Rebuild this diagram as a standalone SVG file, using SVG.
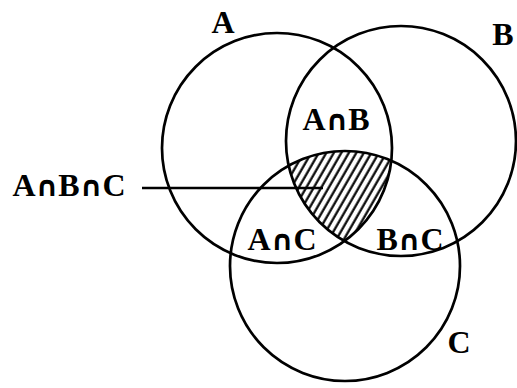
<svg xmlns="http://www.w3.org/2000/svg" width="517" height="388" viewBox="0 0 517 388">
<style>
.c{fill:none;stroke:#000;stroke-width:2.7}
.t{font-family:"Liberation Serif","Times New Roman",serif;font-weight:bold;font-size:32px;fill:#000}
.n{font-family:"DejaVu Sans",sans-serif;font-weight:bold;font-size:28px}
</style>
<defs>
<clipPath id="cA"><circle cx="277" cy="148" r="115"/></clipPath>
<clipPath id="cB"><circle cx="401" cy="141" r="115"/></clipPath>
<clipPath id="cC"><circle cx="345" cy="266" r="115"/></clipPath>
<pattern id="hatch" patternUnits="userSpaceOnUse" width="6.5" height="20" patternTransform="rotate(30)">
<line x1="1.5" y1="0" x2="1.5" y2="20" stroke="#000" stroke-width="2.2"/>
</pattern>
</defs>
<rect width="517" height="388" fill="#fff"/>
<g id="shaded" clip-path="url(#cA)"><g clip-path="url(#cB)"><rect x="250" y="100" width="200" height="200" fill="url(#hatch)" clip-path="url(#cC)"/></g></g>
<g id="setA"><circle class="c" cx="277" cy="148" r="115"/><text class="t" x="223" y="33" text-anchor="middle">A</text></g>
<g id="setB"><circle class="c" cx="401" cy="141" r="115"/><text class="t" x="503" y="45" text-anchor="middle">B</text></g>
<g id="setC"><circle class="c" cx="345" cy="266" r="115"/><text class="t" x="459" y="353" text-anchor="middle">C</text></g>
<g id="labels">
<text class="t" x="336" y="130" text-anchor="middle">A<tspan class="n">∩</tspan>B</text>
<text class="t" x="282" y="250" text-anchor="middle">A<tspan class="n">∩</tspan>C</text>
<text class="t" x="410" y="250" text-anchor="middle">B<tspan class="n">∩</tspan>C</text>
<text class="t" x="69" y="196" text-anchor="middle">A<tspan class="n">∩</tspan>B<tspan class="n">∩</tspan>C</text>
</g>
<g id="connectors"><line x1="142" y1="188" x2="323" y2="188" stroke="#000" stroke-width="2.7"/></g>
</svg>
